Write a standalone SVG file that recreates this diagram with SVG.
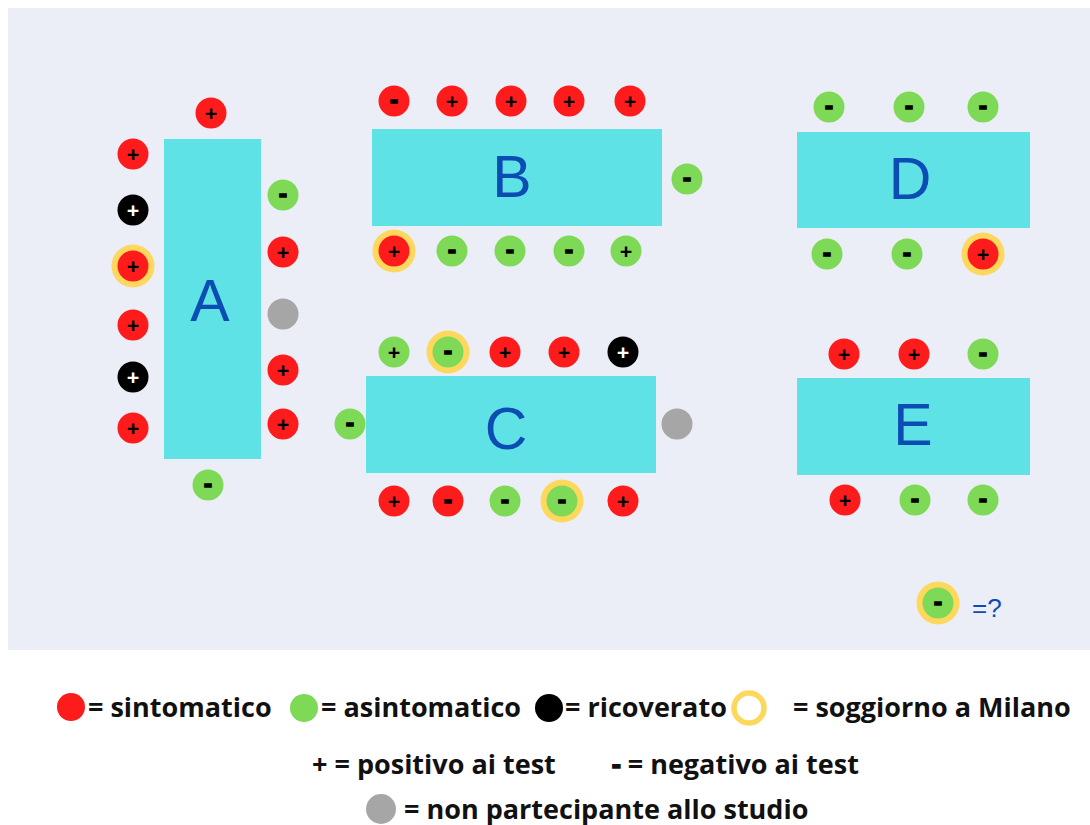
<svg xmlns="http://www.w3.org/2000/svg" width="1090" height="825" viewBox="0 0 1090 825">
<style>
.bg{fill:#eceef7}
.tbl{fill:#5ee2e6}
.lbl{font-family:"Liberation Sans",Arial,sans-serif;font-size:59px;fill:#0b4db3;text-anchor:middle}
.r{fill:#fe1b1b}
.g{fill:#7ed957}
.k{fill:#000}
.gr{fill:#a6a6a6}
.ring{fill:#fdd85d}
.p{font-family:"Open Sans","DejaVu Sans",sans-serif;font-weight:700;font-size:22px;fill:#000;text-anchor:middle}
.pw{fill:#fff}
.m{font-family:"Open Sans","DejaVu Sans",sans-serif;font-weight:700;font-size:23px;fill:#000;stroke:#000;stroke-width:1.7px;text-anchor:middle}
.leg{font-family:"Open Sans","DejaVu Sans",sans-serif;font-weight:700;font-size:27px;fill:#111}
.q{font-family:"Liberation Sans",Arial,sans-serif;font-size:26px;fill:#0b4db3}
</style>
<defs>
<circle id="c" r="15.5"/>
<circle id="rg" r="21.5"/>
</defs>
<rect class="bg" x="8" y="8" width="1082" height="642"/>
<g id="connectors"/>

<g id="table-A"><rect class="tbl" x="164" y="139" width="97" height="320"/><text class="lbl" x="210" y="320.5">A</text></g>
<g id="table-B"><rect class="tbl" x="372" y="129" width="290" height="97"/><text class="lbl" x="512" y="197">B</text></g>
<g id="table-C"><rect class="tbl" x="366" y="376" width="290" height="97"/><text class="lbl" x="506" y="448.5">C</text></g>
<g id="table-D"><rect class="tbl" x="797" y="132" width="233" height="96"/><text class="lbl" x="910" y="199">D</text></g>
<g id="table-E"><rect class="tbl" x="797" y="378" width="233" height="97"/><text class="lbl" x="913" y="445">E</text></g>

<!-- Table A seats -->
<g id="A-top"><use href="#c" class="r" x="211" y="113"/><text class="p" x="211" y="121">+</text></g>
<g id="A-L1"><use href="#c" class="r" x="133" y="154"/><text class="p" x="133" y="162">+</text></g>
<g id="A-L2"><use href="#c" class="k" x="133" y="210"/><text class="p pw" x="133" y="218">+</text></g>
<g id="A-L3"><use href="#rg" class="ring" x="133" y="266"/><use href="#c" class="r" x="133" y="266"/><text class="p" x="133" y="274">+</text></g>
<g id="A-L4"><use href="#c" class="r" x="133" y="325"/><text class="p" x="133" y="333">+</text></g>
<g id="A-L5"><use href="#c" class="k" x="133" y="377"/><text class="p pw" x="133" y="385">+</text></g>
<g id="A-L6"><use href="#c" class="r" x="133" y="428"/><text class="p" x="133" y="436">+</text></g>
<g id="A-R1"><use href="#c" class="g" x="283" y="195"/><text class="m" x="283" y="202">-</text></g>
<g id="A-R2"><use href="#c" class="r" x="283" y="252"/><text class="p" x="283" y="260">+</text></g>
<g id="A-R3"><use href="#c" class="gr" x="283" y="314"/></g>
<g id="A-R4"><use href="#c" class="r" x="283" y="370"/><text class="p" x="283" y="378">+</text></g>
<g id="A-R5"><use href="#c" class="r" x="283" y="424"/><text class="p" x="283" y="432">+</text></g>
<g id="A-bottom"><use href="#c" class="g" x="208" y="485"/><text class="m" x="208" y="492">-</text></g>

<!-- Table B seats -->
<g id="B-T1"><use href="#c" class="r" x="394" y="101"/><text class="m" x="394" y="108">-</text></g>
<g id="B-T2"><use href="#c" class="r" x="452" y="101"/><text class="p" x="452" y="109">+</text></g>
<g id="B-T3"><use href="#c" class="r" x="511" y="101"/><text class="p" x="511" y="109">+</text></g>
<g id="B-T4"><use href="#c" class="r" x="569" y="101"/><text class="p" x="569" y="109">+</text></g>
<g id="B-T5"><use href="#c" class="r" x="630" y="101"/><text class="p" x="630" y="109">+</text></g>
<g id="B-B1"><use href="#rg" class="ring" x="394" y="251"/><use href="#c" class="r" x="394" y="251"/><text class="p" x="394" y="259">+</text></g>
<g id="B-B2"><use href="#c" class="g" x="452" y="251"/><text class="m" x="452" y="258">-</text></g>
<g id="B-B3"><use href="#c" class="g" x="510" y="251"/><text class="m" x="510" y="258">-</text></g>
<g id="B-B4"><use href="#c" class="g" x="569" y="251"/><text class="m" x="569" y="258">-</text></g>
<g id="B-B5"><use href="#c" class="g" x="626" y="251"/><text class="p" x="626" y="259">+</text></g>
<g id="B-R"><use href="#c" class="g" x="687" y="179"/><text class="m" x="687" y="186">-</text></g>

<!-- Table C seats -->
<g id="C-T1"><use href="#c" class="g" x="394" y="352"/><text class="p" x="394" y="360">+</text></g>
<g id="C-T2"><use href="#rg" class="ring" x="448" y="352"/><use href="#c" class="g" x="448" y="352"/><text class="m" x="448" y="359">-</text></g>
<g id="C-T3"><use href="#c" class="r" x="505" y="352"/><text class="p" x="505" y="360">+</text></g>
<g id="C-T4"><use href="#c" class="r" x="564" y="352"/><text class="p" x="564" y="360">+</text></g>
<g id="C-T5"><use href="#c" class="k" x="623" y="352"/><text class="p pw" x="623" y="360">+</text></g>
<g id="C-L"><use href="#c" class="g" x="350" y="424"/><text class="m" x="350" y="431">-</text></g>
<g id="C-R"><use href="#c" class="gr" x="677" y="424"/></g>
<g id="C-B1"><use href="#c" class="r" x="394" y="501"/><text class="p" x="394" y="509">+</text></g>
<g id="C-B2"><use href="#c" class="r" x="448" y="501"/><text class="m" x="448" y="508">-</text></g>
<g id="C-B3"><use href="#c" class="g" x="505" y="501"/><text class="m" x="505" y="508">-</text></g>
<g id="C-B4"><use href="#rg" class="ring" x="562" y="501"/><use href="#c" class="g" x="562" y="501"/><text class="m" x="562" y="508">-</text></g>
<g id="C-B5"><use href="#c" class="r" x="623" y="501"/><text class="p" x="623" y="509">+</text></g>

<!-- Table D seats -->
<g id="D-T1"><use href="#c" class="g" x="829" y="107"/><text class="m" x="829" y="114">-</text></g>
<g id="D-T2"><use href="#c" class="g" x="909" y="107"/><text class="m" x="909" y="114">-</text></g>
<g id="D-T3"><use href="#c" class="g" x="983" y="107"/><text class="m" x="983" y="114">-</text></g>
<g id="D-B1"><use href="#c" class="g" x="827" y="254"/><text class="m" x="827" y="261">-</text></g>
<g id="D-B2"><use href="#c" class="g" x="907" y="254"/><text class="m" x="907" y="261">-</text></g>
<g id="D-B3"><use href="#rg" class="ring" x="983" y="254"/><use href="#c" class="r" x="983" y="254"/><text class="p" x="983" y="262">+</text></g>

<!-- Table E seats -->
<g id="E-T1"><use href="#c" class="r" x="844" y="354"/><text class="p" x="844" y="362">+</text></g>
<g id="E-T2"><use href="#c" class="r" x="914" y="354"/><text class="p" x="914" y="362">+</text></g>
<g id="E-T3"><use href="#c" class="g" x="983" y="354"/><text class="m" x="983" y="361">-</text></g>
<g id="E-B1"><use href="#c" class="r" x="845" y="500"/><text class="p" x="845" y="508">+</text></g>
<g id="E-B2"><use href="#c" class="g" x="915" y="500"/><text class="m" x="915" y="507">-</text></g>
<g id="E-B3"><use href="#c" class="g" x="983" y="500"/><text class="m" x="983" y="507">-</text></g>

<!-- unknown marker -->
<g id="unknown"><use href="#rg" class="ring" x="938" y="603"/><use href="#c" class="g" x="938" y="603"/><text class="m" x="938" y="610">-</text><text class="q" x="972" y="617">=?</text></g>

<!-- legend -->
<g id="legend">
<circle class="r" cx="71" cy="707" r="14"/><text class="leg" x="88" y="717">= sintomatico</text>
<circle class="g" cx="304" cy="708" r="14"/><text class="leg" x="321" y="717">= asintomatico</text>
<circle class="k" cx="549" cy="708" r="14"/><text class="leg" x="565" y="717">= ricoverato</text>
<circle cx="749" cy="708" r="15" fill="#fff" stroke="#fdd85d" stroke-width="5.5"/><text class="leg" x="793" y="717">= soggiorno a Milano</text>
<text class="leg" x="312" y="774">+ = positivo ai test</text>
<text class="leg" x="612" y="774"><tspan stroke="#111" stroke-width="1.5">-</tspan> = negativo ai test</text>
<circle class="gr" cx="381" cy="809" r="15"/><text class="leg" x="404" y="819">= non partecipante allo studio</text>
</g>
</svg>
